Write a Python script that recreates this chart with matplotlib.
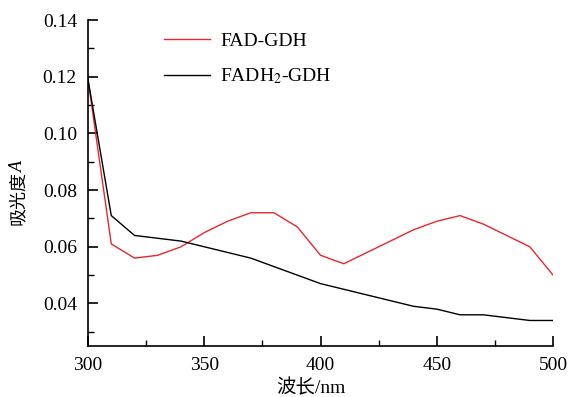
import matplotlib
matplotlib.use('Agg')
import matplotlib.pyplot as plt
from matplotlib.ticker import MultipleLocator

plt.rcParams['font.family'] = ['Liberation Serif', 'Noto Sans CJK SC']
plt.rcParams['mathtext.fontset'] = 'stix'

# wavelength (nm)
wavelength = [300, 310, 320, 330, 340, 350, 360, 370, 380, 390, 400,
              410, 420, 430, 440, 450, 460, 470, 480, 490, 500]
# absorbance
fad_gdh = [0.119, 0.061, 0.056, 0.057, 0.060, 0.065, 0.069, 0.072, 0.072, 0.067, 0.057,
           0.054, 0.058, 0.062, 0.066, 0.069, 0.071, 0.068, 0.064, 0.060, 0.050]
fadh2_gdh = [0.119, 0.071, 0.064, 0.063, 0.062, 0.060, 0.058, 0.056, 0.053, 0.050, 0.047,
             0.045, 0.043, 0.041, 0.039, 0.038, 0.036, 0.036, 0.035, 0.034, 0.034]

fig = plt.figure(figsize=(5.69, 3.97), dpi=100)
ax = fig.add_axes([0.1547, 0.1285, 0.8173, 0.8211])

ax.plot(wavelength, fad_gdh, color='#e8262d', lw=1.0, label='FAD-GDH')
ax.plot(wavelength, fadh2_gdh, color='black', lw=1.0, label='FADH$_2$-GDH')

ax.set_xlim(300, 500)
ax.set_ylim(0.025, 0.14)
ax.xaxis.set_major_locator(MultipleLocator(50))
ax.xaxis.set_minor_locator(MultipleLocator(25))
ax.yaxis.set_major_locator(MultipleLocator(0.02))
ax.yaxis.set_minor_locator(MultipleLocator(0.01))
ax.yaxis.set_major_formatter(plt.FormatStrFormatter('%.2f'))

for s in ['top', 'right']:
    ax.spines[s].set_visible(False)
for s in ['left', 'bottom']:
    ax.spines[s].set_linewidth(1.2)

ax.tick_params(which='major', direction='in', length=7, width=1.2, labelsize=14, pad=8)
ax.tick_params(which='minor', direction='in', length=4, width=1.0)

ax.set_xlabel('波长/nm', fontsize=14)
ax.xaxis.set_label_coords(0.48, -0.1)

# y label: Chinese text plus italic A
yl = fig.text(0.032, 1 - 225 / 397, '吸光度', fontsize=13, rotation=90,
              ha='center', va='bottom')
fig.canvas.draw()
bb = yl.get_window_extent()
fig.text(0.033, (bb.y1 - 1) / fig.bbox.height, 'A', fontsize=13, rotation=90,
         style='italic', ha='center', va='bottom')

ax.legend(loc='upper left', bbox_to_anchor=(0.125, 1.015), frameon=False, fontsize=14,
          handlelength=2.4, labelspacing=0.85, handletextpad=0.5)

fig.savefig('out.png', dpi=100)
